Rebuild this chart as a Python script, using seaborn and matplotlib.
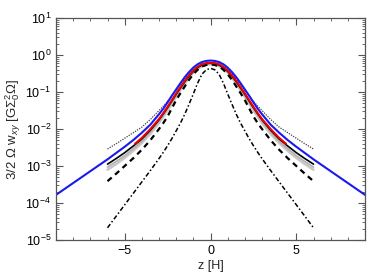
import numpy as np
import matplotlib
matplotlib.use('Agg')
import matplotlib.pyplot as plt
import seaborn as sns
from matplotlib.ticker import LogLocator, NullFormatter, FixedLocator

# ── data: half profiles (z >= 0), log10 of 3/2 Omega w_xy, mirrored about z=0 ──
z_half = [0, 0.25, 0.5, 0.75, 1, 1.25, 1.5, 1.75, 2, 2.25, 2.5, 2.75, 3,
          3.5, 4, 4.5, 5, 5.5, 6]
z_blue_half = z_half + [6.5, 7, 7.5, 8, 8.5, 9]
z_red_half = [0, 0.25, 0.5, 0.75, 1, 1.25, 1.5, 1.75, 2, 2.25, 2.5, 2.75, 3,
              3.5, 4, 4.4]
x_ticks = [-5, 0, 5]
x_ticklabels = ['\u22125', '0', '5']
y_tick_exps = [-5, -4, -3, -2, -1, 0, 1]

blue_log = [-0.15, -0.16, -0.19, -0.25, -0.34, -0.46, -0.6, -0.76, -0.93, -1.1,
            -1.28, -1.45, -1.6, -1.88, -2.1, -2.3, -2.48, -2.65, -2.82,
            -2.98, -3.14, -3.3, -3.46, -3.62, -3.78]
red_log = [-0.21, -0.22, -0.25, -0.32, -0.42, -0.55, -0.7, -0.87, -1.04, -1.22,
           -1.4, -1.57, -1.73, -2.0, -2.24, -2.4]
black_log = [-0.22, -0.23, -0.27, -0.34, -0.44, -0.57, -0.72, -0.89, -1.06,
             -1.24, -1.42, -1.59, -1.75, -2.03, -2.27, -2.46, -2.64, -2.8, -2.95]
gray1_log = [-0.24, -0.25, -0.29, -0.36, -0.46, -0.6, -0.75, -0.92, -1.1,
             -1.28, -1.46, -1.63, -1.8, -2.08, -2.33, -2.53, -2.72, -2.88, -3.03]
gray2_log = [-0.25, -0.26, -0.3, -0.38, -0.48, -0.62, -0.78, -0.95, -1.13,
             -1.31, -1.5, -1.67, -1.84, -2.13, -2.38, -2.59, -2.78, -2.95, -3.1]
dotted_log = [-0.2, -0.21, -0.25, -0.31, -0.4, -0.51, -0.65, -0.8, -0.95,
              -1.1, -1.25, -1.38, -1.5, -1.74, -1.95, -2.1, -2.25, -2.4, -2.54]
dashed_log = [-0.25, -0.27, -0.31, -0.4, -0.52, -0.67, -0.85, -1.03, -1.22,
              -1.44, -1.66, -1.84, -2.0, -2.3, -2.56, -2.79, -3.0, -3.21, -3.41]
dashdot_log = [-0.36, -0.4, -0.52, -0.76, -1.05, -1.33, -1.6, -1.84, -2.05,
               -2.26, -2.45, -2.63, -2.8, -3.12, -3.43, -3.74, -4.05, -4.36, -4.67]


def mirror(zh, vh):
    zh, vh = np.asarray(zh, float), np.asarray(vh, float)
    z = np.concatenate([-zh[:0:-1], zh])
    v = np.concatenate([vh[:0:-1], vh])
    return z, 10.0 ** v


sns.set_style('ticks')
plt.rcParams['font.family'] = ['Liberation Sans', 'DejaVu Sans']
plt.rcParams['mathtext.fontset'] = 'custom'
plt.rcParams['mathtext.rm'] = 'Liberation Sans'
plt.rcParams['mathtext.it'] = 'Liberation Sans:italic'

fig = plt.figure(figsize=(3.82, 2.76), dpi=100)
ax = fig.add_axes([0.1466, 0.1304, 0.8089, 0.8044])

curves = [
    (z_half, gray2_log, dict(color='#c8c8c8', lw=1.8, ls='-')),
    (z_half, gray1_log, dict(color='#b0b0b0', lw=1.2, ls='-')),
    (z_half, dotted_log, dict(color='#444444', lw=0.9, ls=(0, (1, 1)))),
    (z_half, dashdot_log, dict(color='black', lw=1.1, ls=(0, (3, 1.5, 1, 1.5)))),
    (z_half, dashed_log, dict(color='black', lw=1.6, ls=(0, (2.5, 2)))),
    (z_half, black_log, dict(color='black', lw=1.2, ls='-')),
    (z_red_half, red_log, dict(color='#ee0000', lw=1.5, ls='-')),
    (z_blue_half, blue_log, dict(color='#1a1aee', lw=1.5, ls='-')),
]
for zh, vh, st in curves:
    z, v = mirror(zh, vh)
    sns.lineplot(x=z, y=v, ax=ax, sort=False, estimator=None,
                 color=st['color'], linewidth=st['lw'], linestyle=st['ls'])

ax.set_yscale('log')
ax.set_xlim(-9, 9)
ax.set_ylim(1e-5, 1e1)
ax.set_xticks(x_ticks)
ax.set_xticklabels(x_ticklabels)
ax.xaxis.set_minor_locator(FixedLocator(range(-8, 9)))
ax.set_yticks([10.0 ** e for e in y_tick_exps])
ax.set_yticklabels([r'$10^{%d}$' % e for e in y_tick_exps])
minor_y = [m * 10.0 ** e for e in y_tick_exps[:-1] for m in range(2, 10)]
ax.yaxis.set_minor_locator(FixedLocator(minor_y))
ax.yaxis.set_minor_formatter(NullFormatter())

for s in ax.spines.values():
    s.set_color('#555555')
    s.set_linewidth(0.9)
    s.set_visible(True)
ax.tick_params(which='both', direction='in', top=True, right=True,
               colors='#555555', labelcolor='black', labelsize=9)
ax.tick_params(which='major', length=5, width=0.8)
ax.tick_params(which='minor', length=2.5, width=0.6)

ax.set_xlabel('z [H]', fontsize=9, labelpad=2)
ax.set_ylabel(r'3/2 $\Omega$ w$_{xy}$ [G$\Sigma_0^2\Omega$]', fontsize=9.5, labelpad=2)

fig.savefig('out.png', dpi=100)
